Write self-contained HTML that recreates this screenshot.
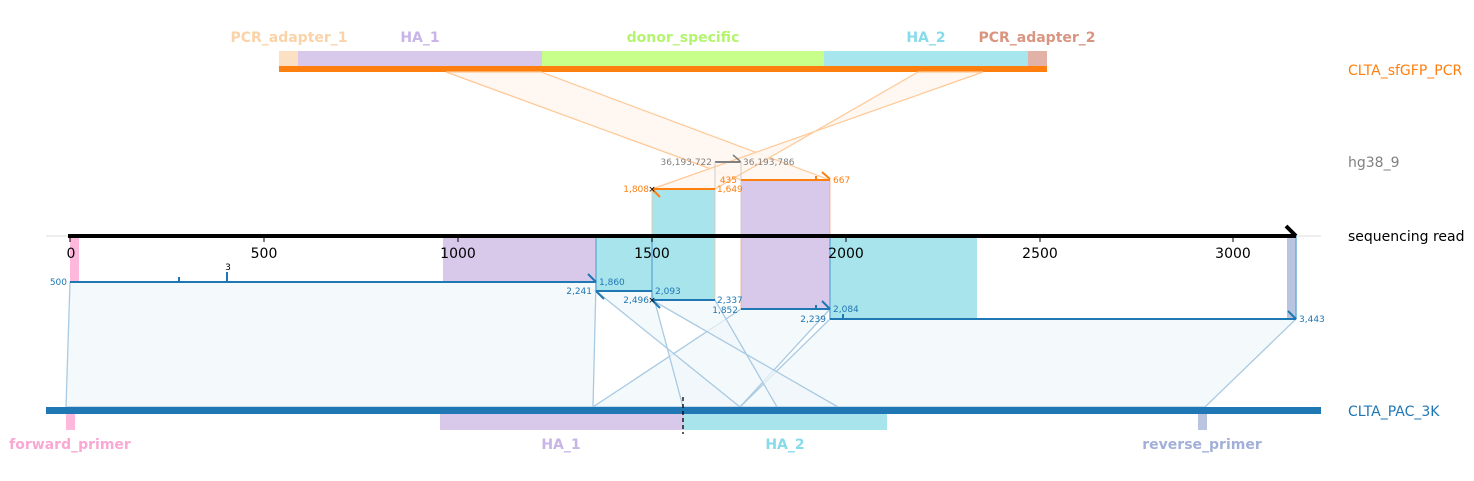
<!DOCTYPE html>
<html><head><meta charset="utf-8"><style>
html,body{margin:0;padding:0;background:#fff;}
svg{display:block;font-family:"DejaVu Sans","Liberation Sans",sans-serif;}
</style></head><body>
<svg width="1474" height="481" viewBox="0 0 1474 481" xmlns="http://www.w3.org/2000/svg">
<g font-size="14" font-weight="bold" text-anchor="middle">
<text x="289" y="42" fill="#fad3a8">PCR_adapter_1</text>
<text x="420" y="42" fill="#c8b4e6">HA_1</text>
<text x="683" y="42" fill="#b4f56e">donor_specific</text>
<text x="926" y="42" fill="#86dbea">HA_2</text>
<text x="1037" y="42" fill="#d9957f">PCR_adapter_2</text>
</g>
<rect x="279" y="51" width="19" height="15" fill="#fbe0c4"/>
<rect x="298" y="51" width="244" height="15" fill="#d8c8ea"/>
<rect x="542" y="51" width="282" height="15" fill="#c8fe8a"/>
<rect x="824" y="51" width="204" height="15" fill="#a8e6ee"/>
<rect x="1028" y="51" width="19" height="15" fill="#e2b2a6"/>
<rect x="279" y="66" width="768" height="6" fill="#ff7f0e"/>
<g fill="#fff6ef" fill-opacity="0.9" stroke="#ffc896" stroke-width="1.2">
<polygon points="446,72 541,72 830,180 741,180"/>
<polygon points="918,72 983,72 652,189 715,189"/>
</g>
<line x1="46" y1="236" x2="1321" y2="236" stroke="#ddd" stroke-width="1"/>
<g fill="#f0f6fa" fill-opacity="0.7" stroke="#a9cae3" stroke-width="1.3">
<polygon points="70,282 596,282 593,407 66,407"/>
<polygon points="830,319 1296,319 1205,407 740,407"/>
<polygon points="741,309 830,309 740,407 593,407"/>
<polygon points="596,291 652,291 683,407 740,407"/>
<polygon points="652,300 715,300 777,407 838,407"/>
</g>
<rect x="652" y="189" width="63" height="111" fill="#a8e4ec" stroke="#e8c8a0" stroke-width="0.8"/>
<rect x="741" y="180" width="89" height="129" fill="#d8c8ea" stroke="#e8b090" stroke-width="0.8"/>
<rect x="70" y="236" width="9" height="46" fill="#fdb8dc"/>
<rect x="443" y="236" width="153" height="46" fill="#d8c8ea"/>
<rect x="596" y="236" width="56" height="55" fill="#a8e4ec"/>
<rect x="830" y="236" width="147" height="83" fill="#a8e4ec"/>
<rect x="1287" y="236" width="9" height="83" fill="#b8c4e0"/>
<g stroke="#6aaed6" stroke-width="1.5">
<line x1="596" y1="236" x2="596" y2="291"/><line x1="652" y1="236" x2="652" y2="300"/>
<line x1="830" y1="236" x2="830" y2="319"/><line x1="1296" y1="236" x2="1296" y2="319"/>
</g>
<line x1="715" y1="162" x2="741" y2="162" stroke="#808080" stroke-width="2"/>
<line x1="733" y1="155" x2="740" y2="161" stroke="#808080" stroke-width="1.5"/>
<line x1="715" y1="162" x2="715" y2="236" stroke="#ccc" stroke-width="1"/>
<line x1="741" y1="162" x2="741" y2="236" stroke="#ccc" stroke-width="1"/>
<g font-size="9" fill="#808080">
<text x="712" y="165" text-anchor="end">36,193,722</text>
<text x="743" y="165">36,193,786</text>
</g>
<g stroke="#ff7f0e" stroke-width="2">
<line x1="652" y1="189" x2="715" y2="189"/>
<line x1="741" y1="180" x2="830" y2="180"/>
<line x1="816" y1="180" x2="816" y2="176"/>
<line x1="822" y1="172" x2="830" y2="179"/>
<line x1="652" y1="189" x2="660" y2="197"/>
</g>
<text x="652" y="192" font-size="9" text-anchor="middle" fill="#000">×</text>
<g font-size="9" fill="#ff7f0e">
<text x="649" y="192" text-anchor="end">1,808</text>
<text x="717" y="192">1,649</text>
<text x="737" y="183" text-anchor="end">435</text>
<text x="833" y="183">667</text>
</g>
<line x1="68" y1="236" x2="1296" y2="236" stroke="#000" stroke-width="4"/>
<polyline points="1286,226 1296,236" stroke="#000" stroke-width="4" fill="none"/>
<g stroke="#000" stroke-width="1">
<line x1="70" y1="236" x2="70" y2="242"/><line x1="264" y1="236" x2="264" y2="242"/>
<line x1="458" y1="236" x2="458" y2="242"/><line x1="652" y1="236" x2="652" y2="242"/>
<line x1="846" y1="236" x2="846" y2="242"/><line x1="1040" y1="236" x2="1040" y2="242"/>
<line x1="1233" y1="236" x2="1233" y2="242"/>
</g>
<g font-size="14" text-anchor="middle" fill="#000">
<text x="71" y="258">0</text><text x="264" y="258">500</text><text x="458" y="258">1000</text>
<text x="652" y="258">1500</text><text x="846" y="258">2000</text><text x="1040" y="258">2500</text>
<text x="1233" y="258">3000</text>
</g>
<g stroke="#1f77b4" stroke-width="2" fill="none">
<line x1="70" y1="282" x2="596" y2="282"/>
<line x1="179" y1="282" x2="179" y2="277"/>
<line x1="227" y1="282" x2="227" y2="272"/>
<line x1="596" y1="291" x2="652" y2="291"/>
<line x1="588" y1="274" x2="596" y2="282"/>
<line x1="596" y1="291" x2="604" y2="299"/>
<line x1="652" y1="300" x2="715" y2="300"/>
<line x1="652" y1="300" x2="660" y2="308"/>
<line x1="741" y1="309" x2="830" y2="309"/>
<line x1="816" y1="309" x2="816" y2="305"/>
<line x1="822" y1="301" x2="830" y2="309"/>
<line x1="830" y1="319" x2="1296" y2="319"/>
<line x1="843" y1="319" x2="843" y2="314"/>
<line x1="1288" y1="311" x2="1296" y2="319"/>
</g>
<text x="652" y="303" font-size="9" text-anchor="middle" fill="#000">×</text>
<text x="228" y="270" font-size="9" text-anchor="middle" fill="#000">3</text>
<g font-size="9" fill="#1f77b4">
<text x="67" y="285" text-anchor="end">500</text>
<text x="592" y="294" text-anchor="end">2,241</text>
<text x="599" y="285">1,860</text>
<text x="649" y="303" text-anchor="end">2,496</text>
<text x="655" y="294">2,093</text>
<text x="717" y="303">2,337</text>
<text x="738" y="313" text-anchor="end">1,852</text>
<text x="833" y="312">2,084</text>
<text x="826" y="322" text-anchor="end">2,239</text>
<text x="1299" y="322">3,443</text>
</g>
<rect x="46" y="407" width="1275" height="7" fill="#1f77b4"/>
<rect x="66" y="414" width="9" height="16" fill="#fdb8dc"/>
<rect x="440" y="414" width="243" height="16" fill="#d8c8ea"/>
<rect x="683" y="414" width="204" height="16" fill="#a8e4ec"/>
<rect x="1198" y="414" width="9" height="16" fill="#b8c4e0"/>
<line x1="683" y1="397" x2="683" y2="434" stroke="#000" stroke-width="1.3" stroke-dasharray="4,3"/>
<g font-size="14" font-weight="bold" text-anchor="middle">
<text x="70" y="449" fill="#f9a8d4">forward_primer</text>
<text x="561" y="449" fill="#c8b4e6">HA_1</text>
<text x="785" y="449" fill="#86dbea">HA_2</text>
<text x="1202" y="449" fill="#a2b0d8">reverse_primer</text>
</g>
<g font-size="14">
<text x="1348" y="75" fill="#ff7f0e">CLTA_sfGFP_PCR</text>
<text x="1348" y="167" fill="#808080">hg38_9</text>
<text x="1348" y="241" fill="#000">sequencing read</text>
<text x="1348" y="416" fill="#1f77b4">CLTA_PAC_3K</text>
</g>
</svg>
</body></html>
